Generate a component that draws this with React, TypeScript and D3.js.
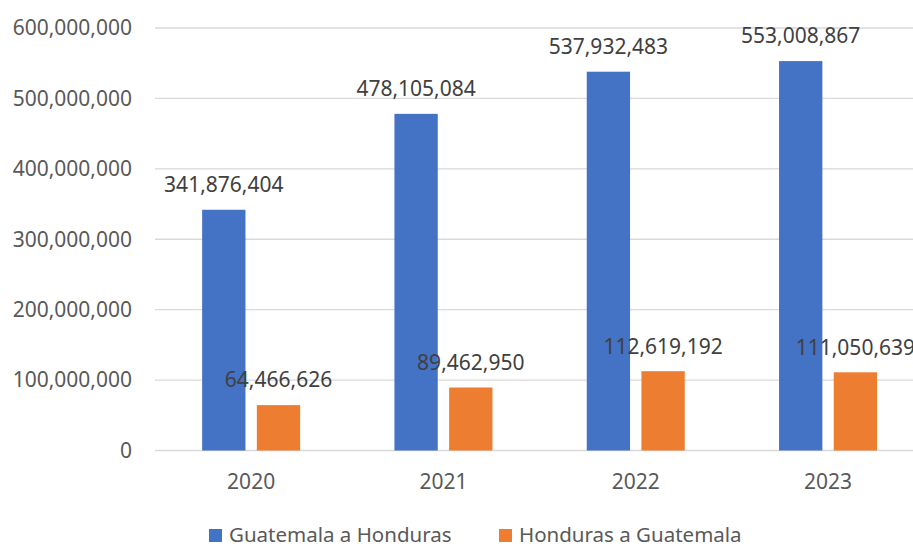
import React from "react";
import { scaleBand, scaleLinear, format } from "d3";

const years = ["2020", "2021", "2022", "2023"];
const seriesNames = ["Guatemala a Honduras", "Honduras a Guatemala"];
const guatemalaAHonduras = [341876404, 478105084, 537932483, 553008867];
const hondurasAGuatemala = [64466626, 89462950, 112619192, 111050639];
const yTicks = [0, 100000000, 200000000, 300000000, 400000000, 500000000, 600000000];
const colors = ["#4472C4", "#ED7D31"];

const W = 913;
const H = 544;
const font = "'Noto Sans', 'Open Sans', sans-serif";

export default function App() {
  const x = scaleBand().domain(years).range([155, 924.2]);
  const inner = scaleBand()
    .domain(seriesNames)
    .range([0, x.bandwidth()])
    .paddingInner(0.208)
    .paddingOuter(0.862);
  const y = scaleLinear().domain([0, 600000000]).range([450.5, 28]);
  const fmt = format(",");
  const series = [guatemalaAHonduras, hondurasAGuatemala];

  return (
    <svg
      width={W}
      height={H}
      style={{ position: "absolute", left: 0, top: 0, background: "#fff" }}
      fontFamily={font}
    >
      {yTicks.map((t) => (
        <g key={t}>
          <line x1={155} x2={W} y1={y(t)} y2={y(t)} stroke="#d9d9d9" strokeWidth={1.3} />
          <text x={132} y={y(t)} dy="0.35em" textAnchor="end" fontSize={21} fill="#595959">
            {t === 0 ? "0" : fmt(t)}
          </text>
        </g>
      ))}

      {years.map((yr, i) => (
        <g key={yr} transform={`translate(${x(yr)},0)`}>
          {seriesNames.map((s, j) => {
            const v = series[j][i];
            const bx = inner(s)!;
            return (
              <g key={s}>
                <rect x={bx} y={y(v)} width={inner.bandwidth()} height={y(0) - y(v)} fill={colors[j]} />
                <text
                  x={bx + inner.bandwidth() / 2}
                  y={y(v) - 25}
                  dy="0.35em"
                  textAnchor="middle"
                  fontSize={21}
                  fill="#404040"
                >
                  {fmt(v)}
                </text>
              </g>
            );
          })}
          <text
            x={x.bandwidth() / 2}
            y={481.5}
            dy="0.35em"
            textAnchor="middle"
            fontSize={21}
            fill="#595959"
          >
            {yr}
          </text>
        </g>
      ))}

      {seriesNames.map((s, j) => {
        const lx = j === 0 ? 209 : 499;
        return (
          <g key={s}>
            <rect x={lx} y={529} width={13} height={13} fill={colors[j]} />
            <text x={lx + 20} y={534.5} dy="0.35em" fontSize={20.5} fill="#595959">
              {s}
            </text>
          </g>
        );
      })}
    </svg>
  );
}
